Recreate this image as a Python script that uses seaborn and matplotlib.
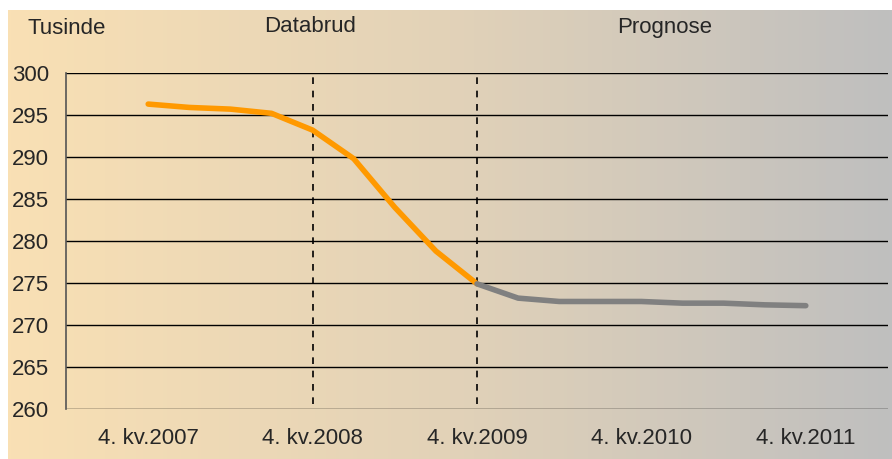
import numpy as np
import pandas as pd
import matplotlib
matplotlib.use("Agg")
import matplotlib.pyplot as plt
import seaborn as sns
from matplotlib.colors import LinearSegmentedColormap

# quarterly employment (tusinde), 4. kv.2007 - 4. kv.2011
quarters = ["4. kv.2007", "1. kv.2008", "2. kv.2008", "3. kv.2008", "4. kv.2008",
            "1. kv.2009", "2. kv.2009", "3. kv.2009", "4. kv.2009",
            "1. kv.2010", "2. kv.2010", "3. kv.2010", "4. kv.2010",
            "1. kv.2011", "2. kv.2011", "3. kv.2011", "4. kv.2011"]
actual = [296.3, 295.9, 295.7, 295.2, 293.2, 289.8, 284.0, 278.8, 274.9]
forecast = [274.9, 273.2, 272.8, 272.8, 272.8, 272.6, 272.6, 272.4, 272.3]
tick_labels = ["4. kv.2007", "4. kv.2008", "4. kv.2009", "4. kv.2010", "4. kv.2011"]
break_labels = ["4. kv.2008", "4. kv.2009"]
yticks = [260, 265, 270, 275, 280, 285, 290, 295, 300]

pos = {q: i for i, q in enumerate(quarters)}
df_act = pd.DataFrame({"x": [pos[q] for q in quarters[:len(actual)]], "y": actual})
df_fc = pd.DataFrame({"x": [pos[q] for q in quarters[len(actual) - 1:]], "y": forecast})

sns.set_style("white")
plt.rcParams["font.family"] = ["Liberation Sans", "DejaVu Sans"]

fig = plt.figure(figsize=(8.92, 4.59), dpi=100)

# gradient background panel
bg = fig.add_axes([8 / 892, 0, 1 - 8 / 892, 1 - 10 / 459], zorder=0)
cmap = LinearSegmentedColormap.from_list("bg", ["#F9E0B4", "#E2D2B8", "#BFBFBF"])
bg.imshow(np.linspace(0, 1, 256)[None, :], aspect="auto", cmap=cmap, extent=[0, 1, 0, 1])
bg.set_axis_off()

ax = fig.add_axes([66 / 892, 1 - 409 / 459, (888 - 66) / 892, (409 - 73) / 459], zorder=1)
ax.patch.set_alpha(0)

for y in yticks:
    ax.axhline(y, color="black", lw=1, zorder=1)
for q in break_labels:
    ax.axvline(pos[q], ymin=0.015, ymax=1, color="black", lw=1.2, ls=(0, (4, 4)), zorder=2)

sns.lineplot(data=df_act, x="x", y="y", ax=ax, color="#FF9900", lw=4, zorder=3)
sns.lineplot(data=df_fc, x="x", y="y", ax=ax, color="#808080", lw=4, zorder=3)
for l in ax.lines:
    l.set_solid_capstyle("round")
    l.set_solid_joinstyle("round")

ax.set_xlim(-2, 18)
ax.set_ylim(260, 300)
ax.set_yticks(yticks)
ax.set_yticklabels([str(v) for v in yticks], fontsize=16)
ax.set_xticks([pos[q] for q in tick_labels])
ax.set_xticklabels(tick_labels, fontsize=16)
ax.tick_params(axis="y", length=0, pad=12)
ax.tick_params(axis="x", length=0, pad=14)
ax.set_xlabel("")
ax.set_ylabel("")
for s in ["top", "right", "bottom"]:
    ax.spines[s].set_visible(False)
ax.spines["left"].set_color("#555555")
ax.spines["left"].set_linewidth(1.2)

fig.text(27 / 892, 1 - 29 / 459, "Tusinde", fontsize=16, va="center", ha="left")
fig.text(310 / 892, 1 - 27 / 459, "Databrud", fontsize=16, va="center", ha="center")
fig.text(665 / 892, 1 - 27 / 459, "Prognose", fontsize=16, va="center", ha="center")

fig.savefig("out.png", dpi=100)
